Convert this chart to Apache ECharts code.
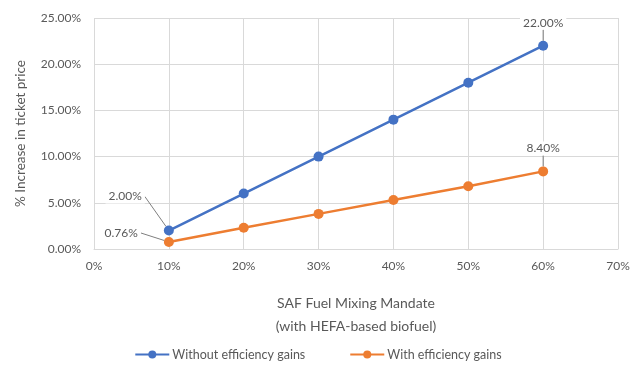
<!DOCTYPE html>
<html><head><meta charset="utf-8">
<script src="https://cdn.jsdelivr.net/npm/echarts@6/dist/echarts.min.js"></script>
<style>html,body{margin:0;padding:0;background:#fff}#c{width:636px;height:366px}</style>
</head><body><div id="c"></div>
<script>
const mandates = [10, 20, 30, 40, 50, 60];
const withoutGains = [2.00, 6.00, 10.00, 14.00, 18.00, 22.00];
const withGains = [0.76, 2.3, 3.8, 5.3, 6.8, 8.40];
const seriesNames = ['Without efficiency gains', 'With efficiency gains'];

const txt = '#595959';
const font = 'Lato';
const lblBase = {show:true, color:txt, fontSize:12, backgroundColor:'#fff', padding:[1,3],
  formatter:p=>p.value[1].toFixed(2)+'%'};
function mk(vals, lbls){
  return mandates.map((m,i)=>{
    const item = {value:[m, vals[i]]};
    if (lbls[i]) { item.label = Object.assign({}, lblBase, {position:lbls[i].pos}); }
    return item;
  });
}
function layoutFn(offsets){
  return function(p){ const o = offsets[p.dataIndex]; return o ? {dx:o[0], dy:o[1]} : {}; };
}
const chart = echarts.init(document.getElementById('c'));
chart.setOption({
  animation:false,
  textStyle:{fontFamily:font},
  grid:{left:94, right:18, top:18, bottom:117},
  xAxis:{type:'value', min:0, max:70, interval:10,
    axisLabel:{formatter:'{value}%', color:txt, fontSize:12, margin:11},
    axisLine:{show:true, lineStyle:{color:'#d9d9d9'}}, axisTick:{show:false},
    splitLine:{show:true, lineStyle:{color:'#d9d9d9'}},
    name:'SAF Fuel Mixing Mandate\n(with HEFA-based biofuel)', nameLocation:'middle', nameGap:43,
    nameTextStyle:{color:txt, fontSize:14, lineHeight:23}},
  yAxis:{type:'value', min:0, max:25, interval:5,
    axisLabel:{formatter:v=>v.toFixed(2)+'%', color:txt, fontSize:12, margin:13},
    axisLine:{show:false}, axisTick:{show:false},
    splitLine:{show:true, lineStyle:{color:'#d9d9d9'}},
    name:'% Increase in ticket price', nameLocation:'middle', nameGap:66,
    nameTextStyle:{color:txt, fontSize:13.5}},
  legend:{bottom:0, left:'center', itemWidth:34, itemHeight:10, itemGap:44,
    textStyle:{color:txt, fontSize:12.5, padding:[0,0,0,-2]},
    data:seriesNames},
  series:[
    {name:seriesNames[0], type:'line', data:mk(withoutGains, {0:{pos:'left'},5:{pos:'top'}}), color:'#4472c4',
     symbol:'circle', symbolSize:10, lineStyle:{width:2.5},
     label:{show:false},
     labelLine:{show:true, lineStyle:{color:'#7f7f7f', width:1}},
     labelLayout:layoutFn({0:[-14,-34],5:[0,-6]})},
    {name:seriesNames[1], type:'line', data:mk(withGains, {0:{pos:'left'},5:{pos:'top'}}), color:'#ed7d31',
     symbol:'circle', symbolSize:10, lineStyle:{width:2.5},
     label:{show:false},
     labelLine:{show:true, lineStyle:{color:'#7f7f7f', width:1}},
     labelLayout:layoutFn({0:[-18,-9],5:[0,-6]})}
  ]
});
</script></body></html>
